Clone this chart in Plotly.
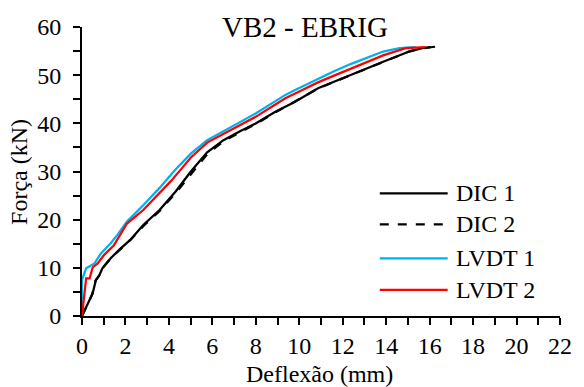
import plotly.graph_objects as go

# Load–deflection curves for beam VB2 (EBRIG strengthening)
dic1_x = [0, 0.27, 0.49, 0.64, 0.8, 0.94, 1.32, 1.77, 2.22, 2.82, 3.57, 4.32, 5.01, 5.76,
          6.51, 7.25, 8.01, 8.9, 9.81, 10.86, 11.6, 12.36, 13.1, 13.86, 14.5, 15.06, 15.65, 16.25]
dic1_y = [0, 2.6, 4.7, 7.5, 8.5, 9.9, 12.0, 14.0, 15.8, 18.9, 22.0, 25.9, 30.0, 34.0,
          36.5, 38.3, 40.0, 42.4, 44.5, 47.3, 48.7, 50.0, 51.4, 52.8, 54.0, 54.9, 55.6, 55.9]

dic2_x = [0, 0.25, 0.47, 0.62, 0.78, 0.92, 1.3, 1.8, 2.25, 2.85, 3.6, 4.36, 5.06, 5.8,
          6.55, 7.3, 8.05, 8.95, 9.85, 10.9, 11.65, 12.4, 13.15, 13.9, 14.55, 15.1, 15.6, 16.05]
dic2_y = [0, 2.4, 4.5, 7.3, 8.3, 9.8, 11.9, 14.0, 15.9, 18.8, 21.9, 25.8, 29.8, 33.8,
          36.4, 38.2, 40.0, 42.4, 44.6, 47.3, 48.7, 50.1, 51.5, 52.9, 54.1, 55.0, 55.5, 55.8]

lvdt1_x = [0, 0.0, 0.19, 0.35, 0.57, 0.87, 1.32, 1.62, 2.07, 2.82, 3.57, 4.26, 5.01, 5.76,
           6.51, 7.25, 8.01, 8.9, 9.36, 9.81, 10.86, 11.6, 12.36, 13.1, 13.86, 14.61, 15.35]
lvdt1_y = [0, 7.5, 9.9, 10.4, 10.9, 13.0, 15.1, 16.8, 19.6, 23.0, 26.6, 30.2, 33.7, 36.5,
           38.3, 40.2, 42.1, 44.6, 45.9, 46.9, 49.2, 50.8, 52.3, 53.6, 54.9, 55.6, 55.8]

lvdt2_x = [0, 0.12, 0.19, 0.35, 0.49, 0.72, 1.02, 1.47, 2.07, 2.82, 3.34, 4.09, 4.6, 5.01,
           5.76, 6.51, 7.25, 8.01, 8.9, 9.36, 9.81, 10.86, 11.6, 12.36, 13.1, 13.86, 14.9, 15.8]
lvdt2_y = [0, 5.4, 7.8, 7.8, 10.1, 10.9, 12.7, 14.7, 19.2, 22.0, 24.4, 28.0, 30.7, 32.9,
           36.0, 37.8, 39.6, 41.4, 43.9, 45.2, 46.2, 48.5, 49.9, 51.3, 52.7, 54.1, 55.6, 55.8]

series_names = ["DIC 1", "DIC 2", "LVDT 1", "LVDT 2"]
series_colors = ["#000000", "#000000", "#00B0F0", "#FF0000"]
series_dash = ["solid", "9px,9px", "solid", "solid"]
series_x = [dic1_x, dic2_x, lvdt1_x, lvdt2_x]
series_y = [dic1_y, dic2_y, lvdt1_y, lvdt2_y]

FONT = "Liberation Serif, Times New Roman, serif"
LW = 2.25
TXT = 24

fig = go.Figure()
for name, color, dash, xs, ys in zip(series_names, series_colors, series_dash, series_x, series_y):
    fig.add_trace(go.Scatter(x=xs, y=ys, mode="lines", name=name,
                             line=dict(color=color, width=LW, dash=dash),
                             showlegend=False))

# Legend block with long swatches in the lower right of the plot area
leg_x0, leg_x1, leg_tx = 0.623, 0.765, 0.779
leg_y = [0.4246, 0.3173, 0.1997, 0.09]
shapes = []
annotations = []
for name, color, dash, yy in zip(series_names, series_colors, series_dash, leg_y):
    shapes.append(dict(type="line", xref="paper", yref="paper",
                       x0=leg_x0, x1=leg_x1, y0=yy, y1=yy,
                       line=dict(color=color, width=LW,
                                 dash="dash" if dash != "solid" else "solid")))
    annotations.append(dict(text=name, xref="paper", yref="paper", x=leg_tx, y=yy,
                            xanchor="left", yanchor="middle", showarrow=False,
                            font=dict(family=FONT, size=TXT, color="black")))

# Title and axis titles
annotations.append(dict(text="VB2 - EBRIG", xref="paper", yref="paper", x=0.466, y=1.0,
                        xanchor="center", yanchor="middle", showarrow=False,
                        font=dict(family=FONT, size=29, color="black")))
annotations.append(dict(text="Deflexão (mm)", xref="paper", yref="paper", x=0.497, y=-0.2,
                        xanchor="center", yanchor="middle", showarrow=False,
                        font=dict(family=FONT, size=TXT, color="black")))
annotations.append(dict(text="Força (kN)", xref="paper", yref="paper", x=-0.133, y=0.5,
                        xanchor="center", yanchor="middle", showarrow=False, textangle=-90,
                        font=dict(family=FONT, size=TXT, color="black")))

axis_common = dict(showgrid=False, zeroline=False, showline=True, linecolor="black",
                   linewidth=2, ticks="outside", ticklen=7, tickwidth=2, tickcolor="black",
                   tickfont=dict(family=FONT, size=TXT, color="black"))

fig.update_layout(
    width=584, height=387,
    margin=dict(l=82, r=13, t=27, b=71),
    paper_bgcolor="white", plot_bgcolor="white",
    xaxis=dict(range=[0, 22], dtick=2, tick0=0,
               minor=dict(dtick=1, ticks="outside", ticklen=7, tickwidth=2, tickcolor="black"),
               **axis_common),
    yaxis=dict(range=[0, 60], dtick=10, tick0=0, ticklabelstandoff=7,
               minor=dict(dtick=5, ticks="outside", ticklen=7, tickwidth=2, tickcolor="black"),
               **axis_common),
    shapes=shapes,
    annotations=annotations,
    showlegend=False,
)

fig.write_html("out.html")
